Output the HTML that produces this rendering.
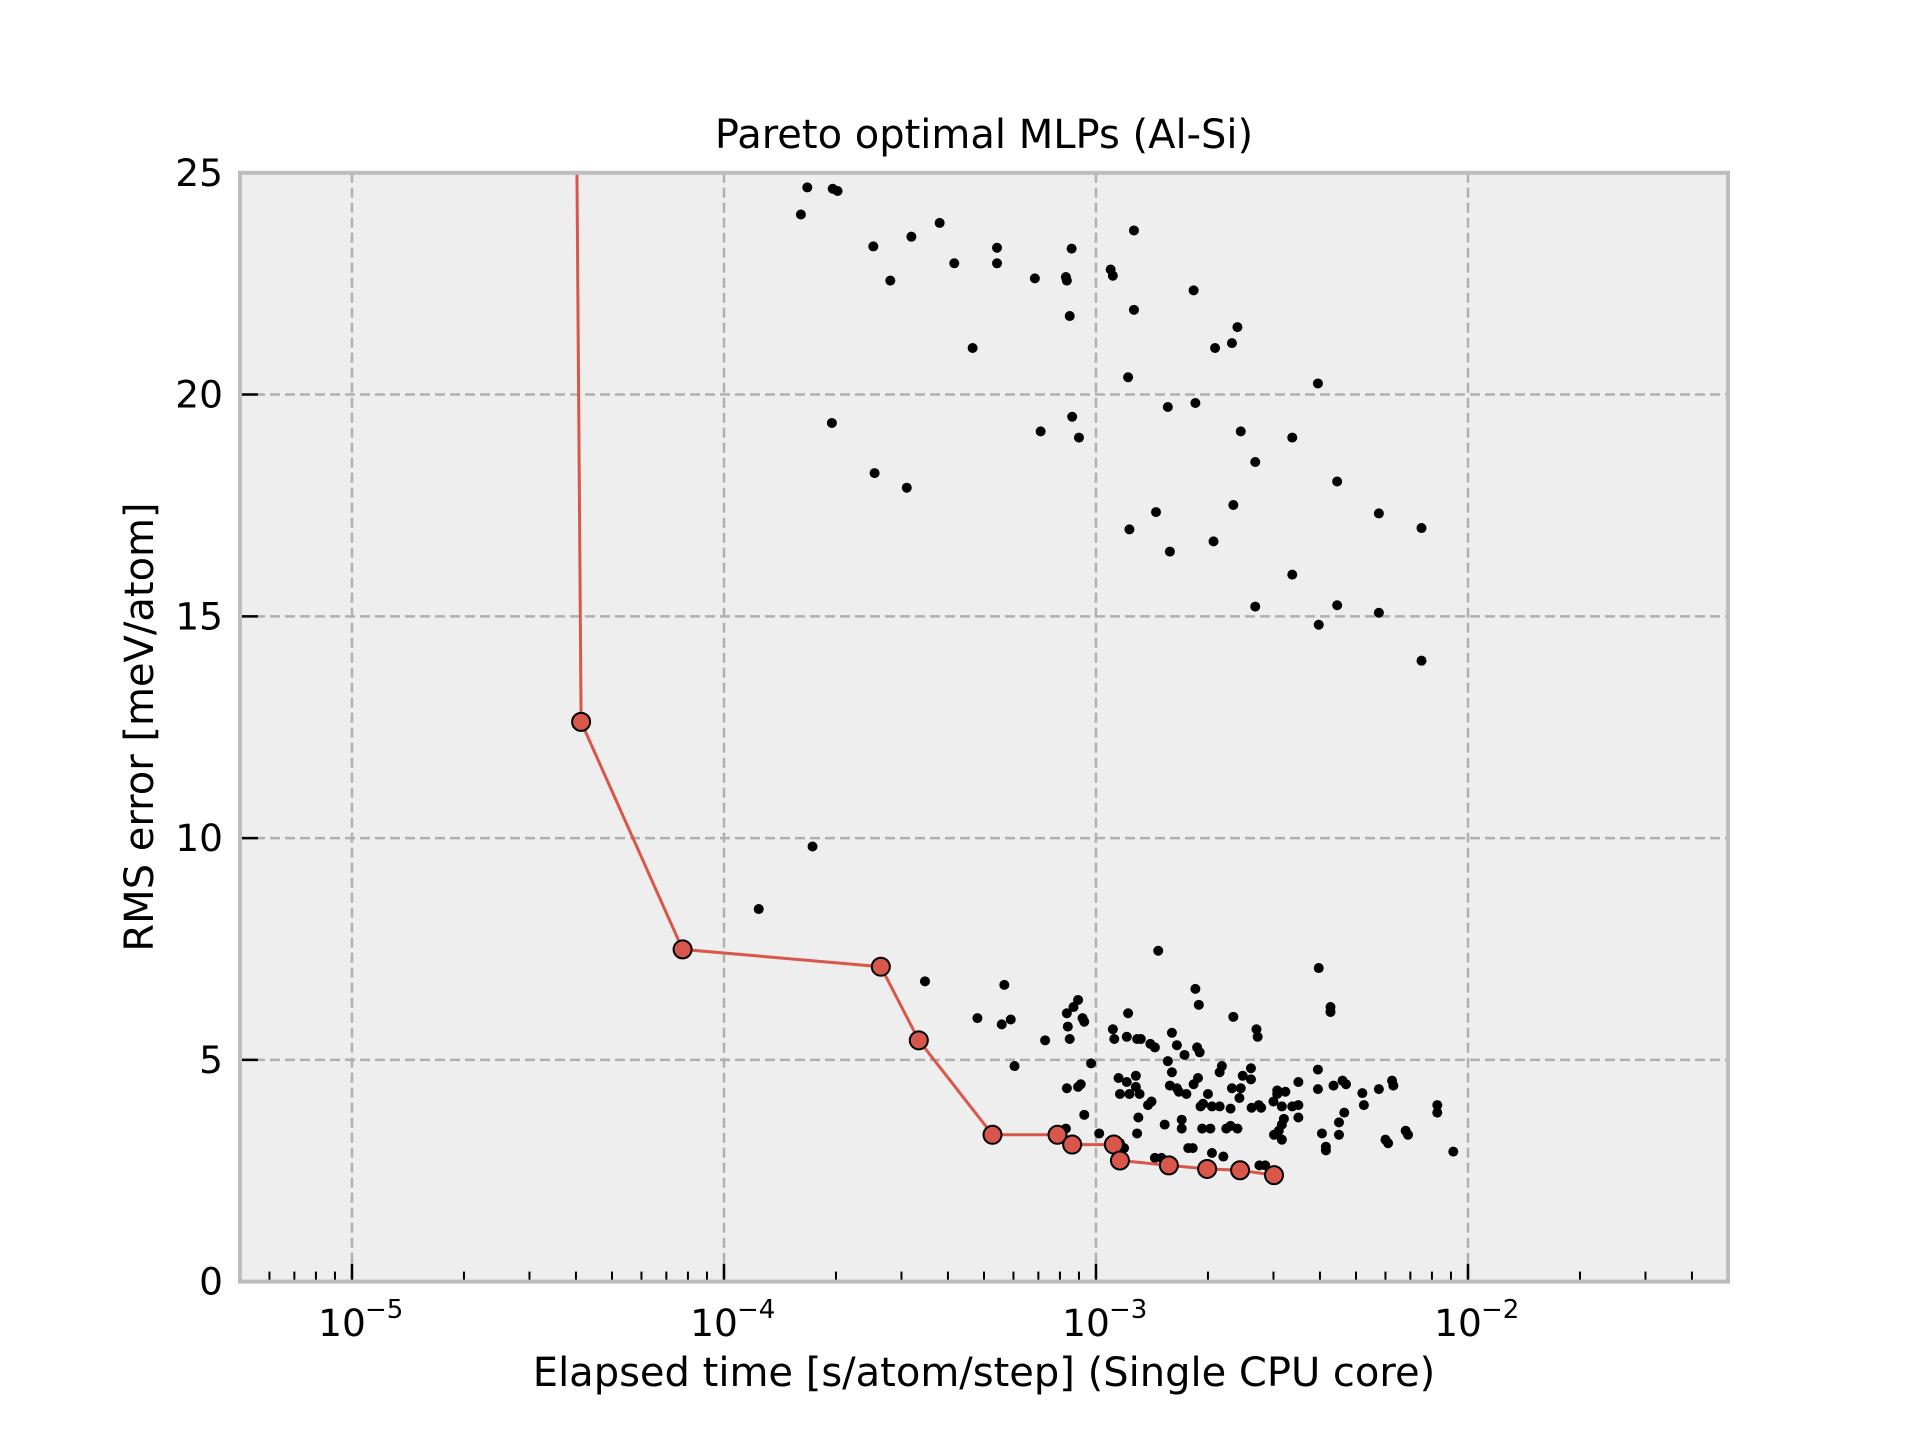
<!DOCTYPE html>
<html><head><meta charset="utf-8"><style>
html,body{margin:0;padding:0;background:#fff}
svg{display:block}
text{font-family:"DejaVu Sans","Liberation Sans",sans-serif;fill:#000}
</style></head><body>
<svg id="chart" width="1920" height="1440" viewBox="0 0 1920 1440" xmlns="http://www.w3.org/2000/svg">
<rect x="240" y="172.8" width="1488" height="1108.8" fill="#eeeeee"/>
<g id="grid"></g>
<g id="ticks"></g>
<defs><clipPath id="clip"><rect x="240" y="172.8" width="1488" height="1108.8"/></clipPath></defs>
<g id="scatter" clip-path="url(#clip)"></g>
<g id="pareto" clip-path="url(#clip)"></g>
<rect x="240" y="172.8" width="1488" height="1108.8" fill="none" stroke="#bdbdbd" stroke-width="4"/>
<g id="labels"></g>
<text x="984" y="148" font-size="40" text-anchor="middle">Pareto optimal MLPs (Al-Si)</text>
<text x="984" y="1386" font-size="40" text-anchor="middle">Elapsed time [s/atom/step] (Single CPU core)</text>
<text x="0" y="0" font-size="40" text-anchor="middle" transform="translate(153,727) rotate(-90)">RMS error [meV/atom]</text>
</svg>
<script>
const xMajorTicks = [1e-5, 1e-4, 1e-3, 1e-2];
const xMajorLabels = ["-5", "-4", "-3", "-2"];
const yTicks = [0, 5, 10, 15, 20, 25];
const yTickLabels = ["0", "5", "10", "15", "20", "25"];
const paretoX = [3.9e-5, 4.13e-5, 7.74e-5, 2.64e-4, 3.34e-4, 5.27e-4, 7.88e-4, 8.63e-4, 1.117e-3, 1.16e-3, 1.57e-3, 1.99e-3, 2.44e-3, 3.01e-3];
const paretoY = [40, 12.62, 7.49, 7.10, 5.44, 3.31, 3.31, 3.09, 3.09, 2.73, 2.62, 2.54, 2.51, 2.40];
const modelX = [1.61e-4,1.675e-4,1.96e-4,2.02e-4,2.52e-4,2.8e-4,3.19e-4,3.8e-4,4.16e-4,4.66e-4,5.42e-4,5.42e-4,6.85e-4,8.3e-4,8.35e-4,8.6e-4,8.5e-4,1.095e-3,1.11e-3,1.265e-3,1.265e-3,1.83e-3,2.09e-3,2.32e-3,2.4e-3,1.22e-3,1.56e-3,1.85e-3,3.95e-3,2.45e-3,3.37e-3,2.68e-3,4.45e-3,1.95e-4,2.54e-4,3.1e-4,7.1e-4,8.63e-4,9.0e-4,1.45e-3,2.34e-3,1.23e-3,1.58e-3,2.07e-3,5.76e-3,7.5e-3,3.37e-3,2.68e-3,4.45e-3,5.76e-3,3.97e-3,7.5e-3,1.73e-4,1.24e-4,
3.47e-4,4.8e-4,5.67e-4,5.58e-4,5.9e-4,6.04e-4,7.3e-4,8.35e-4,8.7e-4,8.95e-4,9.2e-4,9.3e-4,8.4e-4,8.5e-4,8.35e-4,8.95e-4,9.1e-4,9.3e-4,9.7e-4,1.47e-3,1.85e-3,1.89e-3,1.11e-3,1.12e-3,1.22e-3,1.21e-3,1.29e-3,1.32e-3,1.4e-3,1.44e-3,1.6e-3,1.65e-3,1.73e-3,1.87e-3,1.9e-3,1.56e-3,2.34e-3,2.7e-3,2.72e-3,1.15e-3,1.21e-3,1.28e-3,1.28e-3,1.16e-3,1.23e-3,1.31e-3,1.38e-3,1.41e-3,1.3e-3,1.58e-3,1.6e-3,1.65e-3,1.67e-3,1.75e-3,1.83e-3,1.88e-3,1.94e-3,2.0e-3,2.05e-3,2.15e-3,1.91e-3,2.15e-3,2.18e-3,2.32e-3,2.43e-3,2.3e-3,2.45e-3,2.48e-3,2.61e-3,2.61e-3,2.62e-3,2.74e-3,2.78e-3,3.07e-3,3.07e-3,3.23e-3,3.16e-3,3.0e-3,3.2e-3,3.16e-3,3.01e-3,3.16e-3,3.37e-3,3.5e-3,3.5e-3,3.5e-3,3.95e-3,3.95e-3,3.97e-3,4.27e-3,4.27e-3,4.35e-3,4.6e-3,4.7e-3,4.65e-3,4.5e-3,4.5e-3,4.05e-3,4.15e-3,4.15e-3,5.2e-3,5.25e-3,5.76e-3,6.25e-3,6.3e-3,6.0e-3,6.1e-3,6.8e-3,6.9e-3,8.27e-3,8.27e-3,9.13e-3,
8.3e-4,1.02e-3,1.16e-3,1.19e-3,1.29e-3,1.44e-3,1.5e-3,1.53e-3,1.7e-3,1.7e-3,1.77e-3,1.82e-3,1.93e-3,2.03e-3,2.05e-3,2.2e-3,2.24e-3,2.3e-3,2.4e-3,2.75e-3,2.85e-3,3.1e-3];
const modelY = [24.06,24.67,24.64,24.59,23.34,22.57,23.56,23.87,22.96,21.05,23.31,22.96,22.62,22.65,22.57,23.29,21.77,22.82,22.68,23.70,21.91,22.35,21.05,21.16,21.52,20.39,19.72,19.81,20.25,19.17,19.03,18.48,18.04,19.36,18.23,17.9,19.17,19.5,19.03,17.35,17.51,16.96,16.46,16.69,17.32,16.99,15.94,15.22,15.25,15.08,14.81,14.0,9.81,8.40,
6.77,5.94,6.69,5.80,5.91,4.86,5.44,6.05,6.19,6.35,5.94,5.86,5.75,5.47,4.36,4.39,4.45,3.76,4.92,7.46,6.60,6.24,5.69,5.47,6.05,5.52,5.47,5.47,5.36,5.28,5.61,5.33,5.11,5.28,5.17,4.97,5.97,5.69,5.52,4.59,4.50,4.64,4.39,4.23,4.23,4.23,3.98,4.06,3.70,4.42,4.72,4.36,4.28,4.23,4.45,4.59,4.01,4.23,3.95,3.95,3.95,4.72,4.86,4.36,4.14,3.90,4.36,4.64,4.81,4.56,3.92,3.98,3.92,4.23,4.31,4.28,3.95,4.06,3.67,3.54,3.31,3.20,3.95,3.98,4.50,3.70,4.78,4.34,7.07,6.19,6.08,4.42,4.53,4.45,3.81,3.59,3.31,3.34,3.04,2.96,4.25,3.98,4.34,4.53,4.42,3.20,3.12,3.40,3.31,3.98,3.81,2.93,
3.45,3.34,3.12,3.01,3.34,2.79,2.79,3.54,3.65,3.45,3.01,3.01,3.45,3.45,2.90,2.82,3.45,3.51,3.45,2.62,2.62,3.40];

const NS="http://www.w3.org/2000/svg";
const L=240,R=1728,T=172.8,B=1281.6;
const lmin=Math.log10(5e-6), lmax=Math.log10(5e-2);
function xs(v){return L+(Math.log10(v)-lmin)/(lmax-lmin)*(R-L);}
function ys(v){return B-v/25*(B-T);}
function mk(tag,attrs,parent){const e=document.createElementNS(NS,tag);for(const k in attrs)e.setAttribute(k,attrs[k]);parent.appendChild(e);return e;}
const grid=document.getElementById('grid'),ticks=document.getElementById('ticks'),labels=document.getElementById('labels');
xMajorTicks.forEach((v,i)=>{
  const x=xs(v);
  const g=mk('line',{x1:x,x2:x,y1:T,y2:B,stroke:'#b0b0b0','stroke-width':2.5,'stroke-dasharray':'10,5'},grid);
  
  
  const t=mk('line',{x1:x,x2:x,y1:B,y2:B-18,stroke:'#000','stroke-width':2.5},ticks);
  
  
  const tx=mk('text',{x:x-10,y:1336,'font-size':37.5,'text-anchor':'middle'},labels);
  
  
  tx.textContent='10';
  const sup=mk('text',{x:x+13,y:1318,'font-size':26,'text-anchor':'start'},labels);
  
  
  sup.textContent=xMajorLabels[i].replace('-','\u2212');
});
for(let e=-6;e<=-2;e++){for(let m=2;m<=9;m++){const v=m*Math.pow(10,e);if(v<5e-6||v>5e-2)continue;const x=xs(v);
  const t=mk('line',{x1:x,x2:x,y1:B,y2:B-10,stroke:'#000','stroke-width':2},ticks);
  
  
}}
yTicks.forEach((v,i)=>{
  const y=ys(v);
  if(v>0&&v<25){const g=mk('line',{x1:L,x2:R,y1:y,y2:y,stroke:'#b0b0b0','stroke-width':2.5,'stroke-dasharray':'10,5'},grid);
  
  }
  const t=mk('line',{x1:L,x2:L+18,y1:y,y2:y,stroke:'#000','stroke-width':2.5},ticks);
  
  
  const tx=mk('text',{x:223,y:y+13,'font-size':37.5,'text-anchor':'end'},labels);
  
  
  tx.textContent=yTickLabels[i];
});
const sc=document.getElementById('scatter');
modelX.forEach((v,i)=>{
  const c=mk('circle',{cx:xs(v),cy:ys(modelY[i]),r:5,fill:'#000'},sc);
  
  
});
const pg=document.getElementById('pareto');
const pts=paretoX.map((v,i)=>xs(v).toFixed(1)+','+ys(paretoY[i]).toFixed(1)).join(' ');
const pl=mk('polyline',{points:pts,fill:'none',stroke:'#d9574a','stroke-width':3},pg);


paretoX.forEach((v,i)=>{
  const c=mk('circle',{cx:xs(v),cy:ys(paretoY[i]),r:9,fill:'#d9574a',stroke:'#000','stroke-width':2},pg);
  
  
});
</script>
</body></html>
